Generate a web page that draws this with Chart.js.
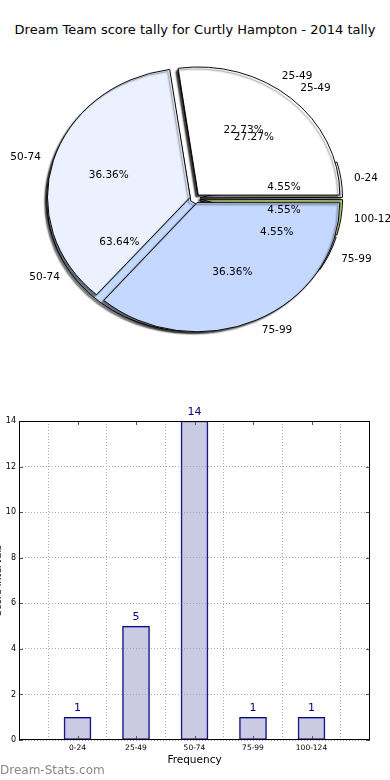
<!DOCTYPE html>
<html>
<head>
<meta charset="utf-8">
<script src="https://cdn.jsdelivr.net/npm/chart.js@4"></script>
<style>
  html,body{margin:0;padding:0;background:#fff;}
  body{width:390px;height:780px;position:relative;overflow:hidden;font-family:"DejaVu Sans",sans-serif;}
  #title{position:absolute;left:0;top:22px;width:390px;text-align:center;font-size:13px;line-height:16px;color:#000;}
  canvas{position:absolute;}
  #pieBack,#pieFront{left:0;top:0;}
  #bars{left:-12px;top:400px;}
</style>
</head>
<body>
<div id="title">Dream Team score tally for Curtly Hampton - 2014 tally</div>
<canvas id="pieBack" width="390" height="397"></canvas>
<canvas id="pieFront" width="390" height="397"></canvas>
<canvas id="bars" width="394" height="380"></canvas>
<script>
// score bands and how often each was hit
const bands      = ["0-24", "25-49", "50-74", "75-99", "100-124"];
const tally      = [1, 5, 14, 1, 1];
const bandColors = ["#ffffff", "#ebf1ff", "#c5d8ff", "#c5d8ff", "#c8e68a"];

// the source draws a second pie on top of the first one
const overBands  = ["25-49", "50-74", "75-99"];
const overShares = [3, 4, 4];
const overColors = ["#ffffff", "#ebf1ff", "#c5d8ff"];

const yTicks = [0, 2, 4, 6, 8, 10, 12, 14];

const FONT = "DejaVu Sans";
const PIE_R = 141.5;
const SQUASH = 0.905;   // pie is an ellipse in the original
const EXPLODE = 5;      // px, Chart.js moves arcs by offset/4

function rev(a){ return a.slice().reverse(); }

// squash the pie vertically + matplotlib style shadow
const squashPlugin = {
  id: "squash",
  beforeDatasetsDraw(c){
    const a = c.getDatasetMeta(0).data[0];
    const ctx = c.ctx;
    ctx.save();
    ctx.translate(a.x, a.y); ctx.scale(1, SQUASH); ctx.translate(-a.x, -a.y);
    ctx.shadowColor = "rgba(0,0,0,0.5)";
    ctx.shadowOffsetX = -2;
    ctx.shadowOffsetY = 2;
    ctx.shadowBlur = 1.5;
  },
  afterDatasetsDraw(c){ c.ctx.restore(); }
};

function drawPieLabels(chart, ctx){
  const meta = chart.getDatasetMeta(0);
  const ds = chart.data.datasets[0];
  const total = ds.data.reduce((s, v) => s + v, 0);
  ctx.save();
  ctx.fillStyle = "#000";
  ctx.font = "10.5px '" + FONT + "'";
  ctx.textBaseline = "middle";
  meta.data.forEach((arc, i) => {
    const mid = (arc.startAngle + arc.endAngle) / 2;
    const dx = Math.cos(mid), dy = Math.sin(mid);
    const place = f => {
      const d = EXPLODE + f * PIE_R;
      return [arc.x + d * dx, arc.y + d * dy * SQUASH];
    };
    const [lx, ly] = place(1.1);
    ctx.textAlign = dx > 0 ? "left" : "right";
    ctx.fillText(chart.data.labels[i], lx, ly);
    const [px, py] = place(0.6);
    ctx.textAlign = "center";
    ctx.fillText((ds.data[i] / total * 100).toFixed(2) + "%", px, py);
  });
  ctx.restore();
}

function pieConfig(labels, values, colors, radius, plugins){
  // matplotlib goes counter-clockwise from 3 o'clock, Chart.js clockwise
  return {
    type: "pie",
    data: {
      labels: rev(labels),
      datasets: [{
        data: rev(values),
        backgroundColor: rev(colors),
        borderColor: "#000",
        borderWidth: 1,
        offset: EXPLODE * 4
      }]
    },
    options: {
      responsive: false,
      animation: false,
      events: [],
      rotation: 90,
      radius: radius,
      layout: { padding: 0 },
      plugins: { legend: { display: false }, tooltip: { enabled: false } }
    },
    plugins
  };
}

// back pie a bit smaller: Chart.js grows thin exploded arcs
const backPie = new Chart(document.getElementById("pieBack"),
  pieConfig(bands, tally, bandColors, PIE_R - 2.5, [squashPlugin]));

const frontPie = new Chart(document.getElementById("pieFront"),
  pieConfig(overBands, overShares, overColors, PIE_R, [squashPlugin, {
    id: "pieLabels",
    afterDraw(c){
      drawPieLabels(backPie, c.ctx);
      drawPieLabels(c, c.ctx);
    }
  }]));

// ---- bar chart ----
const barCats = ["", ...bands, ""];
const barVals = [null, ...tally, null];

const framePlugin = {
  id: "frame",
  afterDraw(c){
    const {ctx, chartArea: a} = c;
    const xs = c.scales.x, ys = c.scales.y;
    ctx.save();
    ctx.strokeStyle = "#555";
    ctx.lineWidth = 1;
    ctx.beginPath();
    yTicks.forEach(v => {
      const y = Math.round(ys.getPixelForValue(v)) + 0.5;
      ctx.moveTo(a.left, y); ctx.lineTo(a.left + 4, y);
      ctx.moveTo(a.right, y); ctx.lineTo(a.right - 4, y);
    });
    for (let i = 1; i <= bands.length; i++) {
      const x = Math.round(xs.getPixelForValue(i)) + 0.5;
      ctx.moveTo(x, a.bottom); ctx.lineTo(x, a.bottom - 4);
      ctx.moveTo(x, a.top); ctx.lineTo(x, a.top + 4);
    }
    ctx.stroke();
    ctx.strokeStyle = "#000";
    ctx.strokeRect(Math.round(a.left) + 0.5, Math.round(a.top) + 0.5,
                   Math.round(a.width) - 1, Math.round(a.height) - 1);
    // values over bars
    ctx.fillStyle = "#000080";
    ctx.font = "11px '" + FONT + "'";
    ctx.textAlign = "center";
    ctx.textBaseline = "middle";
    c.getDatasetMeta(0).data.forEach((bar, i) => {
      if (barVals[i] == null) return;
      ctx.fillText(String(barVals[i]), bar.x, bar.y - 9);
    });
    // watermark
    ctx.fillStyle = "#888";
    ctx.font = "12px '" + FONT + "'";
    ctx.textAlign = "left";
    ctx.fillText("Dream-Stats.com", 12, 371);
    ctx.restore();
  }
};

new Chart(document.getElementById("bars"), {
  type: "bar",
  data: {
    labels: barCats,
    datasets: [{
      data: barVals,
      backgroundColor: "rgba(150,150,200,0.5)",
      borderColor: "#000080",
      borderWidth: 1,
      borderSkipped: false,
      barThickness: 27
    }]
  },
  options: {
    responsive: false,
    animation: false,
    events: [],
    layout: { padding: { top: 21, right: 12, left: 0, bottom: 0 } },
    plugins: { legend: { display: false }, tooltip: { enabled: false } },
    scales: {
      x: {
        offset: false,
        grid: { color: "#aaa", drawTicks: false },
        border: { display: false, dash: [1, 2] },
        ticks: { font: { family: FONT, size: 7.5 }, color: "#000", padding: 4, maxRotation: 0, autoSkip: false },
        title: { display: true, text: "Frequency", color: "#000",
                 font: { family: FONT, size: 10.5 }, padding: { top: 0, bottom: 13 } },
        afterFit(s){ s.height = 40; }
      },
      y: {
        min: 0, max: 14,
        grid: { color: "#aaa", drawTicks: false },
        border: { display: false, dash: [1, 2] },
        ticks: { stepSize: 2, font: { family: FONT, size: 8 }, color: "#000", padding: 3 },
        title: { display: true, text: "Score Intervals", color: "#000",
                 font: { family: FONT, size: 9.5 }, padding: { top: 5, bottom: 0 } },
        afterFit(s){ s.width = 31; }
      }
    }
  },
  plugins: [framePlugin]
});
</script>
</body>
</html>
